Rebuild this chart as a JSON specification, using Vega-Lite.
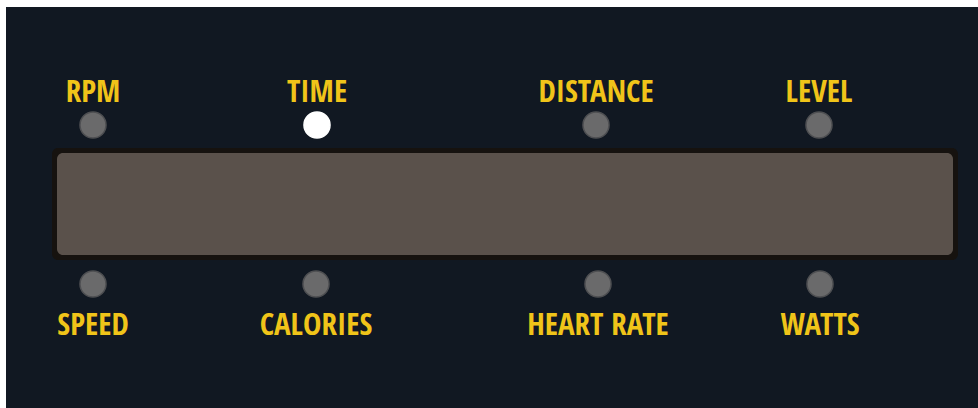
{
  "$schema": "https://vega.github.io/schema/vega-lite/v6.json",
  "autosize": {"type": "fit", "contains": "padding"},
  "width": 978,
  "height": 408,
  "padding": 0,
  "background": "#ffffff",
  "config": {"view": {"stroke": null}},
  "datasets": {
    "panels": [
      {"part": "console", "x0": 6, "x1": 978, "y0": 7, "y1": 408},
      {"part": "bezel", "x0": 52, "x1": 958, "y0": 148, "y1": 260},
      {"part": "screen", "x0": 57, "x1": 953, "y0": 153, "y1": 255}
    ],
    "indicators": [
      {"label": "RPM", "x": 93, "led_y": 125, "text_y": 102, "state": "off"},
      {"label": "TIME", "x": 317, "led_y": 125, "text_y": 102, "state": "on"},
      {"label": "DISTANCE", "x": 596, "led_y": 125, "text_y": 102, "state": "off"},
      {"label": "LEVEL", "x": 819, "led_y": 125, "text_y": 102, "state": "off"},
      {"label": "SPEED", "x": 93, "led_y": 284, "text_y": 335, "state": "off"},
      {"label": "CALORIES", "x": 316, "led_y": 284, "text_y": 335, "state": "off"},
      {"label": "HEART RATE", "x": 598, "led_y": 284, "text_y": 335, "state": "off"},
      {"label": "WATTS", "x": 820, "led_y": 284, "text_y": 335, "state": "off"}
    ]
  },
  "layer": [
    {
      "data": {"name": "panels"},
      "transform": [{"filter": "datum.part === 'console'"}],
      "mark": {"type": "rect", "cornerRadius": 0},
      "encoding": {
        "x": {"field": "x0", "type": "quantitative", "scale": {"domain": [0, 978], "nice": false, "zero": false}, "axis": null},
        "x2": {"field": "x1"},
        "y": {"field": "y0", "type": "quantitative", "scale": {"domain": [0, 408], "nice": false, "zero": false, "reverse": true}, "axis": null},
        "y2": {"field": "y1"},
        "color": {
          "field": "part", "type": "nominal", "legend": null,
          "scale": {"domain": ["console", "bezel", "screen"], "range": ["#111822", "#16120f", "#5a514b"]}
        },
        "opacity": {"value": 1}
      }
    },
    {
      "data": {"name": "panels"},
      "transform": [{"filter": "datum.part !== 'console'"}],
      "mark": {"type": "rect", "cornerRadius": 6},
      "encoding": {
        "x": {"field": "x0", "type": "quantitative"},
        "x2": {"field": "x1"},
        "y": {"field": "y0", "type": "quantitative"},
        "y2": {"field": "y1"},
        "color": {"field": "part", "type": "nominal", "legend": null},
        "opacity": {"value": 1}
      }
    },
    {
      "data": {"name": "indicators"},
      "mark": {"type": "point", "shape": "circle", "filled": true, "size": 680, "strokeWidth": 1.5},
      "encoding": {
        "x": {"field": "x", "type": "quantitative"},
        "y": {"field": "led_y", "type": "quantitative"},
        "fill": {
          "field": "state", "type": "nominal", "legend": null,
          "scale": {"domain": ["off", "on"], "range": ["#6a6a6b", "#ffffff"]}
        },
        "stroke": {
          "field": "state", "type": "nominal", "legend": null,
          "scale": {"domain": ["off", "on"], "range": ["#4e4f52", "#ffffff"]}
        },
        "opacity": {"value": 1}
      }
    },
    {
      "data": {"name": "indicators"},
      "mark": {
        "type": "text", "align": "center", "baseline": "alphabetic",
        "font": "Open Sans Condensed",
        "fontWeight": "bold", "fontSize": 31, "color": "#f0c419"
      },
      "encoding": {
        "x": {"field": "x", "type": "quantitative"},
        "y": {"field": "text_y", "type": "quantitative"},
        "text": {"field": "label", "type": "nominal"}
      }
    }
  ]
}
